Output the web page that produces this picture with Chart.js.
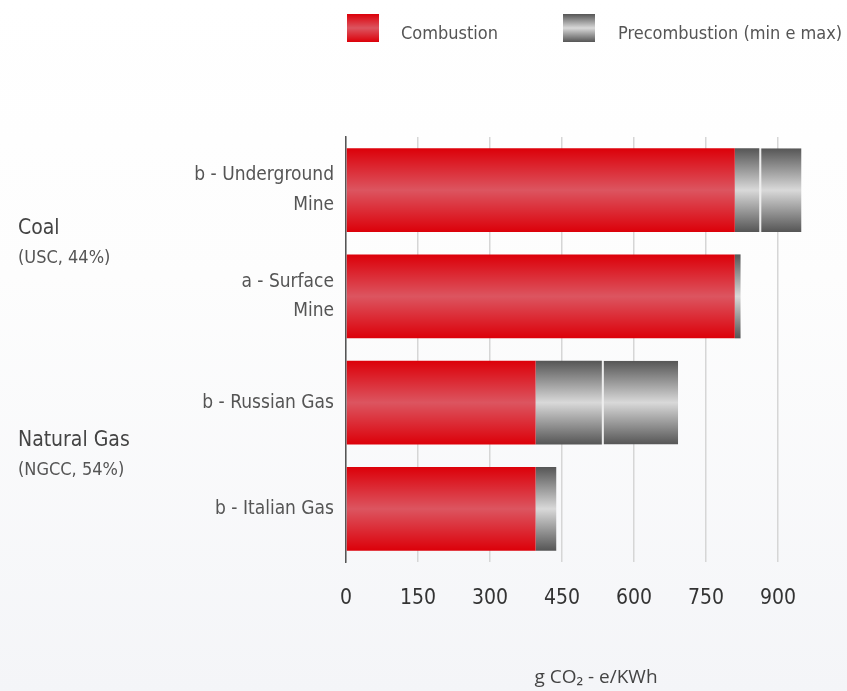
<!DOCTYPE html>
<html lang="en">
  <head>
    <meta charset="UTF-8" />
    <title>Combustion and precombustion emissions</title>
    <script src="https://cdn.jsdelivr.net/npm/chart.js@4.4.0/dist/chart.umd.min.js"></script>
    <style>
      html, body { margin: 0; padding: 0; }
      body {
        width: 847px; height: 691px; overflow: hidden;
        background: linear-gradient(to bottom, #ffffff 0%, #fdfdfd 40%, #f4f5f8 100%);
      }
      #wrap { position: relative; width: 847px; height: 691px; }
    </style>
  </head>
  <body>
    <div id="wrap"><canvas id="myChart" width="847" height="691"></canvas></div>

    <script>
      // values, g CO2-e/kWh
      const categories = [['b - Underground', 'Mine'], ['a - Surface', 'Mine'], 'b - Russian Gas', 'b - Italian Gas'];
      const combustion = [810, 810, 395, 395];
      const precombMin = [51, 12, 138, 43];
      const precombMax = [88, 0, 159, 0];
      const groups = [
        { name: 'Coal', note: '(USC, 44%)', from: 0, to: 1 },
        { name: 'Natural Gas', note: '(NGCC, 54%)', from: 2, to: 3 }
      ];
      const xTicks = [0, 150, 300, 450, 600, 750, 900];

      const narrow = "'Liberation Sans Narrow', 'DejaVu Sans Condensed', Roboto, sans-serif";
      const barPct = 0.79;
      const redStops = ['#dc0009', '#dc5560', '#dc0009'];
      const greyStops = ['#555555', '#d9d9d9', '#555555'];

      function barGradient(ctx, stops) {
        const chart = ctx.chart;
        const y = chart.scales.y;
        if (!y || ctx.dataIndex === undefined) return stops[0];
        const c = y.getPixelForValue(ctx.dataIndex);
        const h = (y.height / categories.length) * barPct / 2;
        if (!isFinite(c) || !isFinite(h) || h <= 0) return stops[0];
        const g = chart.ctx.createLinearGradient(0, c - h, 0, c + h);
        g.addColorStop(0, stops[0]);
        g.addColorStop(0.5, stops[1]);
        g.addColorStop(1, stops[2]);
        return g;
      }

      function fillBox(c, x, y, w, h, stops) {
        const g = c.createLinearGradient(0, y, 0, y + h);
        g.addColorStop(0, stops[0]);
        g.addColorStop(0.5, stops[1]);
        g.addColorStop(1, stops[2]);
        c.fillStyle = g;
        c.fillRect(x, y, w, h);
      }

      const extras = {
        id: 'extras',
        afterDraw(chart) {
          const c = chart.ctx;
          const y = chart.scales.y;
          c.save();
          // legend
          fillBox(c, 347, 14, 32, 28, redStops);
          fillBox(c, 563, 14, 32, 28, greyStops);
          c.fillStyle = '#555';
          c.font = '18px ' + narrow;
          c.textBaseline = 'middle';
          c.textAlign = 'left';
          c.fillText('Combustion', 401, 34);
          c.fillText('Precombustion (min e max)', 618, 34);
          // group labels on the left
          groups.forEach(gr => {
            const mid = (y.getPixelForValue(gr.from) + y.getPixelForValue(gr.to)) / 2;
            c.font = '21px ' + narrow;
            c.fillStyle = '#444';
            c.fillText(gr.name, 18, mid - 15);
            c.font = '18px ' + narrow;
            c.fillStyle = '#555';
            c.fillText(gr.note, 18, mid + 15);
          });
          // axis title
          c.textAlign = 'center';
          c.font = "19px 'Open Sans', sans-serif";
          c.fillStyle = '#444';
          c.fillText('g CO\u2082 - e/KWh', 596, 678);
          c.restore();
        }
      };

      window.addEventListener('load', setup);

      function setup() {
        const ctx = document.getElementById('myChart').getContext('2d');
        const myChart = new Chart(ctx, {
          type: 'bar',
          data: {
            labels: categories,
            datasets: [
              {
                label: 'Combustion',
                data: combustion,
                backgroundColor: c => barGradient(c, redStops),
                borderWidth: 0
              },
              {
                label: 'Precombustion (min)',
                data: precombMin,
                backgroundColor: c => barGradient(c, greyStops),
                borderWidth: 0
              },
              {
                label: 'Precombustion (max)',
                data: precombMax,
                backgroundColor: c => barGradient(c, greyStops),
                borderColor: 'rgba(235,235,235,0.9)',
                borderWidth: { left: 2, top: 0, right: 0, bottom: 0 },
                borderSkipped: false
              }
            ]
          },
          options: {
            indexAxis: 'y',
            responsive: false,
            animation: false,
            datasets: { bar: { barPercentage: barPct, categoryPercentage: 1 } },
            layout: { padding: { top: 137, right: 21, left: 0, bottom: 0 } },
            plugins: { legend: { display: false }, tooltip: { enabled: false } },
            scales: {
              x: {
                stacked: true,
                min: 0,
                max: 1000,
                afterFit: s => { s.height = 691 - 562; },
                afterBuildTicks: s => { s.ticks = xTicks.map(v => ({ value: v })); },
                grid: { color: '#d6d6d6', lineWidth: 1.5, drawTicks: false },
                border: { display: false },
                ticks: { color: '#333', padding: 24, font: { family: narrow, size: 21 } }
              },
              y: {
                stacked: true,
                afterFit: s => { s.width = 346; },
                grid: { display: false, drawTicks: false },
                border: { display: true, color: '#555', width: 1.5 },
                ticks: { color: '#555', padding: 12, font: { family: narrow, size: 19, lineHeight: 1.55 } }
              }
            }
          },
          plugins: [extras]
        });
      }
    </script>
  </body>
</html>
